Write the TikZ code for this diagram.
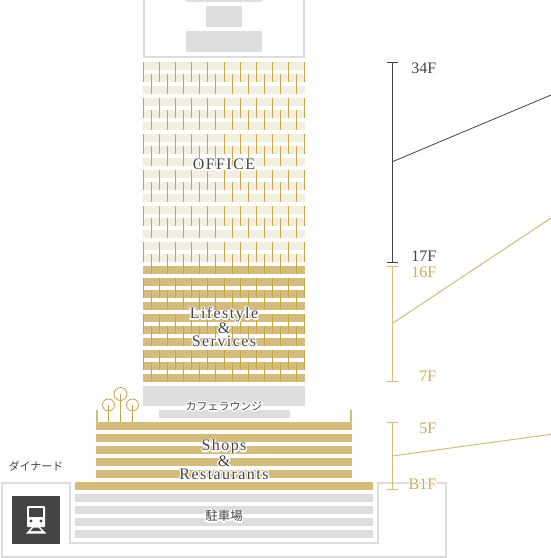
\documentclass[tikz,border=0pt]{standalone}
\usepackage{fontspec}
\setmainfont{Liberation Serif}
\newfontfamily\titleface[LetterSpace=9]{Liberation Serif}
\newfontfamily\cjk{Noto Sans CJK JP}
\newcommand{\halobegin}{\special{pdf:code q 1 1 1 RG 1 1 1 rg 2.6 w 1 j 1 J 2 Tr}}
\newcommand{\haloend}{\special{pdf:code Q}}
\newcommand{\halotext}[1]{\rlap{\halobegin{\titleface #1}\haloend}{\titleface #1}}
\newcommand{\halofloor}[1]{\rlap{\halobegin #1\haloend}#1}
\newcommand{\halocjk}[1]{\rlap{\halobegin{\cjk #1}\haloend}{\cjk #1}}
\definecolor{cream}{HTML}{F3EEE0}
\definecolor{sand}{HTML}{D4BC7D}
\definecolor{tick}{HTML}{C5A545}
\definecolor{wallgrey}{HTML}{DDDDDD}
\definecolor{ink}{HTML}{444444}
\definecolor{goldtext}{HTML}{C9AB5A}
\tikzset{
  greyline/.style={draw=wallgrey,line width=2pt},
  greyfill/.style={fill=wallgrey},
  title/.style={inner sep=0pt,text=ink,align=center,font=\fontsize{16}{13}\selectfont},
  floor/.style={inner sep=0pt,anchor=east,font=\fontsize{16}{16}\selectfont},
  jp/.style={inner sep=0pt,text=ink,font=\fontsize{11}{11}\selectfont},
  jpbig/.style={inner sep=0pt,text=ink,font=\fontsize{12.5}{12.5}\selectfont},
  darkbr/.style={draw=ink,line width=1pt},
  goldbr/.style={draw=sand,line width=1pt},
}
\begin{document}
\begin{tikzpicture}[x=1pt,y=-1pt]
\useasboundingbox (0,0) rectangle (551,558);
\fill[white] (0,0) rectangle (551,558);
% top of the tower
\draw[greyline] (144,-2) -- (144,57) -- (304,57) -- (304,-2);
\fill[greyfill] (186,-1) rectangle (262,2);
\fill[greyfill] (206,6) rectangle (242,27);
\fill[greyfill] (186,31) rectangle (262,52);
% office bands
\foreach \k in {0,...,16} \fill[cream] (143,62+12*\k) rectangle (305,70+12*\k);
% lifestyle bands
\foreach \k in {0,...,9} \fill[sand] (143,266+12*\k) rectangle (305,274+12*\k);
% mullions
\foreach \g in {0,...,8} {
  \foreach \x in {143.5,159.5,175.5,191.5,207.5,224.5,240.5,256.5,272.5,288.5,304.5}
    \draw[tick,line width=1pt] (\x,62+36*\g) -- (\x,82+36*\g);
  \foreach \x in {151.5,167.5,183.5,199.5,215.5,232.5,248.5,264.5,280.5,296.5}
    \draw[tick,line width=1pt] (\x,74+36*\g) -- (\x,94+36*\g);
}
% cafe floors
\fill[greyfill] (143,386) rectangle (305,406);
\fill[greyfill] (159,410) rectangle (290,418);
% shops
\foreach \k in {0,...,4} \fill[sand] (96,422+12*\k) rectangle (352,430+12*\k);
\fill[sand] (96,410) rectangle (97.6,422);
\fill[sand] (350.4,410) rectangle (352,422);
% trees
\foreach \x/\y/\r in {108.5/405/6,120.5/394/6.5,132.5/405/6} {
  \draw[tick,line width=0.8pt] (\x,\y) circle (\r);
  \draw[tick,line width=0.8pt] (\x,\y) -- (\x,422);
}
% basement
\draw[greyline] (2,483) -- (70,483) -- (70,543) -- (378,543) -- (378,483) -- (446,483) -- (446,557) -- (2,557) -- cycle;
\fill[sand] (75,482) rectangle (373,490);
\foreach \k in {0,...,3} \fill[greyfill] (75,494+12*\k) rectangle (373,502+12*\k);
% station icon
\fill[ink] (12,496) rectangle (60,544);
\fill[white,rounded corners=1pt] (27,506) rectangle (45,527);
\fill[ink] (29.3,508.3) rectangle (43.3,517.3);
\fill[ink] (31,521) circle (1.6);
\fill[ink] (41,521) circle (1.6);
\fill[white] (32,527) -- (40,527) -- (46.5,533.5) -- (26,533.5) -- cycle;
\fill[ink] (33.5,527.6) -- (38.5,527.6) -- (41.5,531) -- (30.5,531) -- cycle;
% brackets
\coordinate (darktop) at (392.5,62);
\coordinate (darkbot) at (392.5,262);
\coordinate (darkhub) at (392.5,161.7);
\coordinate (darkend) at (551,95);
\coordinate (midtop) at (392.5,266.5);
\coordinate (midbot) at (392.5,381.5);
\coordinate (midhub) at (392.5,323.3);
\coordinate (midend) at (551,218);
\coordinate (lowtop) at (392.5,422.5);
\coordinate (lowbot) at (392.5,489.5);
\coordinate (lowhub) at (392.5,456);
\coordinate (lowend) at (551,434.3);
\draw[darkbr] (darktop) -- (darkbot);
\draw[darkbr] ([xshift=-5.5pt]darktop) -- ([xshift=5.5pt]darktop);
\draw[darkbr] ([xshift=-5.5pt]darkbot) -- ([xshift=5.5pt]darkbot);
\draw[darkbr,line width=.8pt] (darkhub) -- (darkend);
\draw[goldbr] (midtop) -- (midbot);
\draw[goldbr] ([xshift=-5.5pt]midtop) -- ([xshift=5.5pt]midtop);
\draw[goldbr] ([xshift=-5.5pt]midbot) -- ([xshift=5.5pt]midbot);
\draw[goldbr] (midhub) -- (midend);
\draw[goldbr] (lowtop) -- (lowbot);
\draw[goldbr] ([xshift=-5.5pt]lowtop) -- ([xshift=5.5pt]lowtop);
\draw[goldbr] ([xshift=-5.5pt]lowbot) -- ([xshift=5.5pt]lowbot);
\draw[goldbr] (lowhub) -- (lowend);
% titles
\node[title] (office) at (224,164.5) {\halotext{OFFICE}};
\node[title] (life) at (224,327) {\halotext{Lifestyle}\\\halotext{\&}\\\halotext{Services}};
\node[title] (shops) at (224,459.5) {\halotext{Shops}\\\halotext{\&}\\\halotext{Restaurants}};
\node[jp] (cafe) at (224,406) {\halocjk{カフェラウンジ}};
\node[jpbig] (park) at (224,516) {\halocjk{駐車場}};
\node[jp] (dinerd) at (36,466) {\halocjk{ダイナード}};
% floors
\node[floor,text=ink] (f34) at (436.5,68.5) {34F};
\node[floor,text=ink] (f17) at (436.5,256.5) {17F};
\node[floor,text=goldtext] (f16) at (436.5,272.5) {16F};
\node[floor,text=goldtext] (f7) at (436.5,376.5) {7F};
\node[floor,text=goldtext] (f5) at (436.5,428.5) {5F};
\node[floor,text=goldtext] (fb1) at (436.5,484.5) {\halofloor{B1F}};
\end{tikzpicture}
\end{document}
